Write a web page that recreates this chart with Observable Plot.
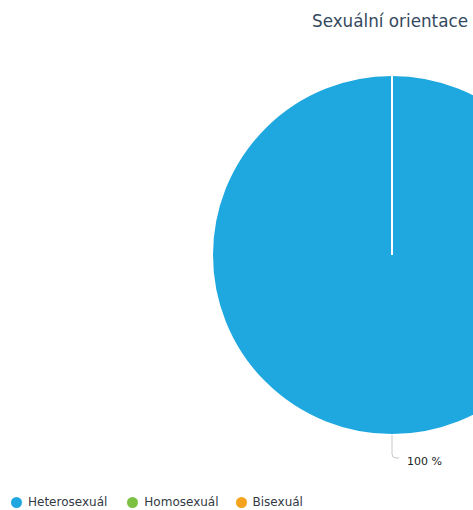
<!DOCTYPE html>
<html><head><meta charset="utf-8">
<script src="https://cdn.jsdelivr.net/npm/d3@7"></script>
<script src="https://cdn.jsdelivr.net/npm/@observablehq/plot@0.6"></script>
<style>
body{margin:0;background:#fff;font-family:"DejaVu Sans",sans-serif;overflow:hidden;width:473px;height:510px;position:relative}
#title{position:absolute;top:11px;left:290px;width:200px;text-align:center;font-size:16.8px;color:#34495e;white-space:nowrap}
#chart{position:absolute;top:0;left:0}
#legend{position:absolute;top:495px;left:11px;font-size:12px;color:#333a44;display:flex}
#legend span.item{display:inline-flex;align-items:center}
#legend span.dot{width:11px;height:11px;border-radius:50%;display:inline-block;margin-right:6px}
</style></head><body>
<div id="title">Sexuální orientace</div>
<div id="chart"></div>
<div id="legend"></div>
<script>
const categories = ["Heterosexuál", "Homosexuál", "Bisexuál"];
const values = [100, 0, 0];
const colors = ["#1fa8e0", "#7dc142", "#f5a21d"];
const labels = ["100 %", "", ""];

const data = categories.map((c, i) => ({category: c, value: values[i], label: labels[i]}));
const cx = 392, cy = 255, R = 180;

const pieMark = (index, scales, vals, dims) => {
  const g = d3.create("svg:g").attr("transform", `translate(${cx},${cy})`);
  const arcs = d3.pie().value(d => d.value).sort(null)(data);
  const arc = d3.arc().innerRadius(0).outerRadius(R);
  const ordered = arcs.slice().sort((a, b) => (b.data.value > 0) - (a.data.value > 0));
  g.selectAll("path.slice").data(ordered).join("path")
    .attr("class", "slice")
    .attr("d", d => {
      if (d.endAngle - d.startAngle === 0) {
        const a = d.startAngle;
        return `M0,0L${R * Math.sin(a)},${-R * Math.cos(a)}`;
      }
      return arc(d);
    })
    .attr("fill", d => d.data.value > 0 ? colors[categories.indexOf(d.data.category)] : "none")
    .attr("stroke", "#fff").attr("stroke-width", 2);
  arcs.filter(d => d.data.value > 0).forEach(d => {
    const mid = (d.startAngle + d.endAngle) / 2;
    const x0 = R * Math.sin(mid), y0 = -R * Math.cos(mid);
    g.append("path")
      .attr("d", `M${x0},${y0}L${x0},${y0 + 19}Q${x0},${y0 + 23} ${x0 + 4},${y0 + 23}L${x0 + 7},${y0 + 23}`)
      .attr("fill", "none").attr("stroke", "#c8c8c8").attr("stroke-width", 1);
    g.append("text").attr("x", x0 + 15).attr("y", y0 + 30)
      .attr("text-anchor", "start")
      .attr("font-size", 11).attr("fill", "#222").attr("font-family", "DejaVu Sans, sans-serif")
      .text(d.data.label);
  });
  return g.node();
};

const plot = Plot.plot({
  width: 473, height: 485, margin: 0,
  x: {axis: null}, y: {axis: null},
  marks: [pieMark]
});
document.getElementById("chart").appendChild(plot);

const leg = document.getElementById("legend");
const gaps = [20, 17, 0];
categories.forEach((c, i) => {
  const s = document.createElement("span"); s.className = "item";
  s.style.marginRight = gaps[i] + "px";
  s.innerHTML = `<span class="dot" style="background:${colors[i]}"></span>${c}`;
  leg.appendChild(s);
});
</script></body></html>
